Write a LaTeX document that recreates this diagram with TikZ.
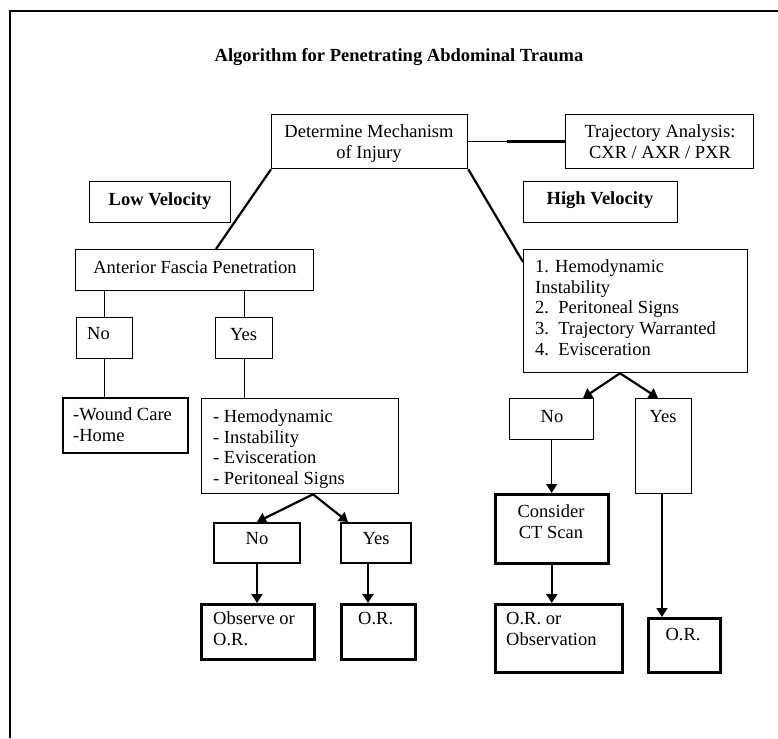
\documentclass[tikz,border=0pt]{standalone}
\usepackage{fontspec}
\setmainfont{Liberation Serif}
\usetikzlibrary{arrows.meta}
\begin{document}
\begin{tikzpicture}[x=1pt,y=-1pt,
  every node/.style={font=\fontsize{18.5}{20.7}\selectfont, inner sep=0pt},
  box/.style={draw, line width=1.3pt, anchor=north west, minimum width=#1},
  box/.default=10pt,
  medbox/.style={box=#1, line width=2pt},
  medbox/.default=10pt,
  thickbox/.style={box=#1, line width=2.6pt},
  thickbox/.default=10pt,
  txt/.style={anchor=base},
  mtxt/.style={anchor=north west, align=left},
  ctxt/.style={anchor=north, align=center},
  thin/.style={line width=1.3pt},
  bold/.style={line width=2.2pt},
  arr/.style={-{Triangle[length=9pt,width=11pt]}},
]
\useasboundingbox (0,0) rectangle (778,738);
% outer frame
\draw[line width=2pt] (9.5,738) -- (9.5,11) -- (778,11);

% title
\node[txt, font=\fontsize{18.5}{20.7}\selectfont\bfseries] (title) at (399,62) {Algorithm for Penetrating Abdominal Trauma};

% boxes
\node[box=196pt, minimum height=54pt] (det) at (271,114) {};
\node[box=188pt, minimum height=54pt] (traj) at (565,114) {};
\node[box=141pt, minimum height=41pt] (low) at (89,181) {};
\node[box=154pt, minimum height=41pt] (high) at (523,181) {};
\node[box=238pt, minimum height=41pt] (afp) at (75,249) {};
\node[box=56pt, minimum height=41pt] (lno) at (76,317) {};
\node[box=57pt, minimum height=41pt] (lyes) at (215,317) {};
\node[medbox=125pt, minimum height=55pt] (wound) at (62,397) {};
\node[box=197pt, minimum height=95pt] (hemo) at (201,398) {};
\node[medbox=86pt, minimum height=40pt] (lno2) at (213,522) {};
\node[medbox=70pt, minimum height=40pt] (lyes2) at (340,522) {};
\node[thickbox=113pt, minimum height=55pt] (obs) at (200,603) {};
\node[thickbox=74pt, minimum height=55pt] (orl) at (340,603) {};
\node[box=224pt, minimum height=123pt] (num) at (523,249) {};
\node[box=84pt, minimum height=41pt] (rno) at (509,398) {};
\node[box=56pt, minimum height=95pt] (ryes) at (635,398) {};
\node[thickbox=113pt, minimum height=69pt] (cons) at (494,493) {};
\node[thickbox=127pt, minimum height=68pt] (orobs) at (494,603) {};
\node[thickbox=72pt, minimum height=54pt] (orr) at (647,617) {};

% texts
\node[ctxt] (det-t) at (369,124.4) {Determine Mechanism\\of Injury};
\node[ctxt] (traj-t) at (660,124.4) {Trajectory Analysis:\\CXR / AXR / PXR};
\node[txt, font=\fontsize{18.5}{20.7}\selectfont\bfseries] (low-t) at (160,205) {Low Velocity};
\node[txt, font=\fontsize{18.5}{20.7}\selectfont\bfseries] (high-t) at (600,204) {High Velocity};
\node[txt] (afp-t) at (195,273) {Anterior Fascia Penetration};
\node[anchor=base west] (lno-t) at (87,339) {No};
\node[txt] (lyes-t) at (243.5,340) {Yes};
\node[mtxt] (wound-t) at (73,407.8) {-Wound Care\\-Home};
\node[mtxt] (hemo-t) at (213,409.4) {- Hemodynamic\\- Instability\\- Evisceration\\- Peritoneal Signs};
\node[txt] (lno2-t) at (257,544) {No};
\node[txt] (lyes2-t) at (376,544) {Yes};
\node[mtxt] (obs-t) at (213,611.4) {Observe or\\O.R.};
\node[anchor=base west] (orl-t) at (358,624) {O.R.};
\node[mtxt] (num-t) at (535,259.4) {1. Hemodynamic\\Instability\\2.\ \ Peritoneal Signs\\3.\ \ Trajectory Warranted\\4.\ \ Evisceration};
\node[txt] (rno-t) at (552,422) {No};
\node[txt] (ryes-t) at (663,422) {Yes};
\node[ctxt] (cons-t) at (551,504.4) {Consider\\CT Scan};
\node[mtxt] (orobs-t) at (506,612.2) {O.R. or\\Observation};
\node[txt] (orr-t) at (683,640) {O.R.};

% connectors
\draw[thin] (det.east) -- (traj.west);
\draw[line width=2.4pt] (507,0 |- traj.west) -- (traj.west);
\draw[bold] (det.south west) -- (216,0 |- afp.north);
\draw[bold] (det.south east) -- (num.west |- 0,262);
\draw[thin] (lno.north |- afp.south) -- (lno.north);
\draw[thin] (lyes.north |- afp.south) -- (lyes.north);
\draw[thin] (lno.south) -- (lno.south |- wound.north);
\draw[thin] (lyes.south) -- (lyes.south |- hemo.north);
\draw[bold, arr] (313,0 |- hemo.south) -- (lno2.north);
\draw[bold, arr] (313,0 |- hemo.south) -- (348,0 |- lyes2.north);
\draw[line width=2.6pt, arr] (lno2.south) -- (lno2.south |- obs.north);
\draw[line width=2.6pt, arr] (368,0 |- lyes2.south) -- (368,0 |- orl.north);
\draw[bold, arr] (620,0 |- num.south) -- (583,0 |- rno.north);
\draw[bold, arr] (620,0 |- num.south) -- (658,0 |- ryes.north);
\draw[thin, arr] (rno.south) -- (rno.south |- cons.north);
\draw[line width=2.6pt, arr] (cons.south) -- (cons.south |- orobs.north);
\draw[line width=2.4pt] (662,0 |- ryes.south) -- (662,580);
\draw[thin, arr] (662,580) -- (662,0 |- orr.north);
\end{tikzpicture}
\end{document}
